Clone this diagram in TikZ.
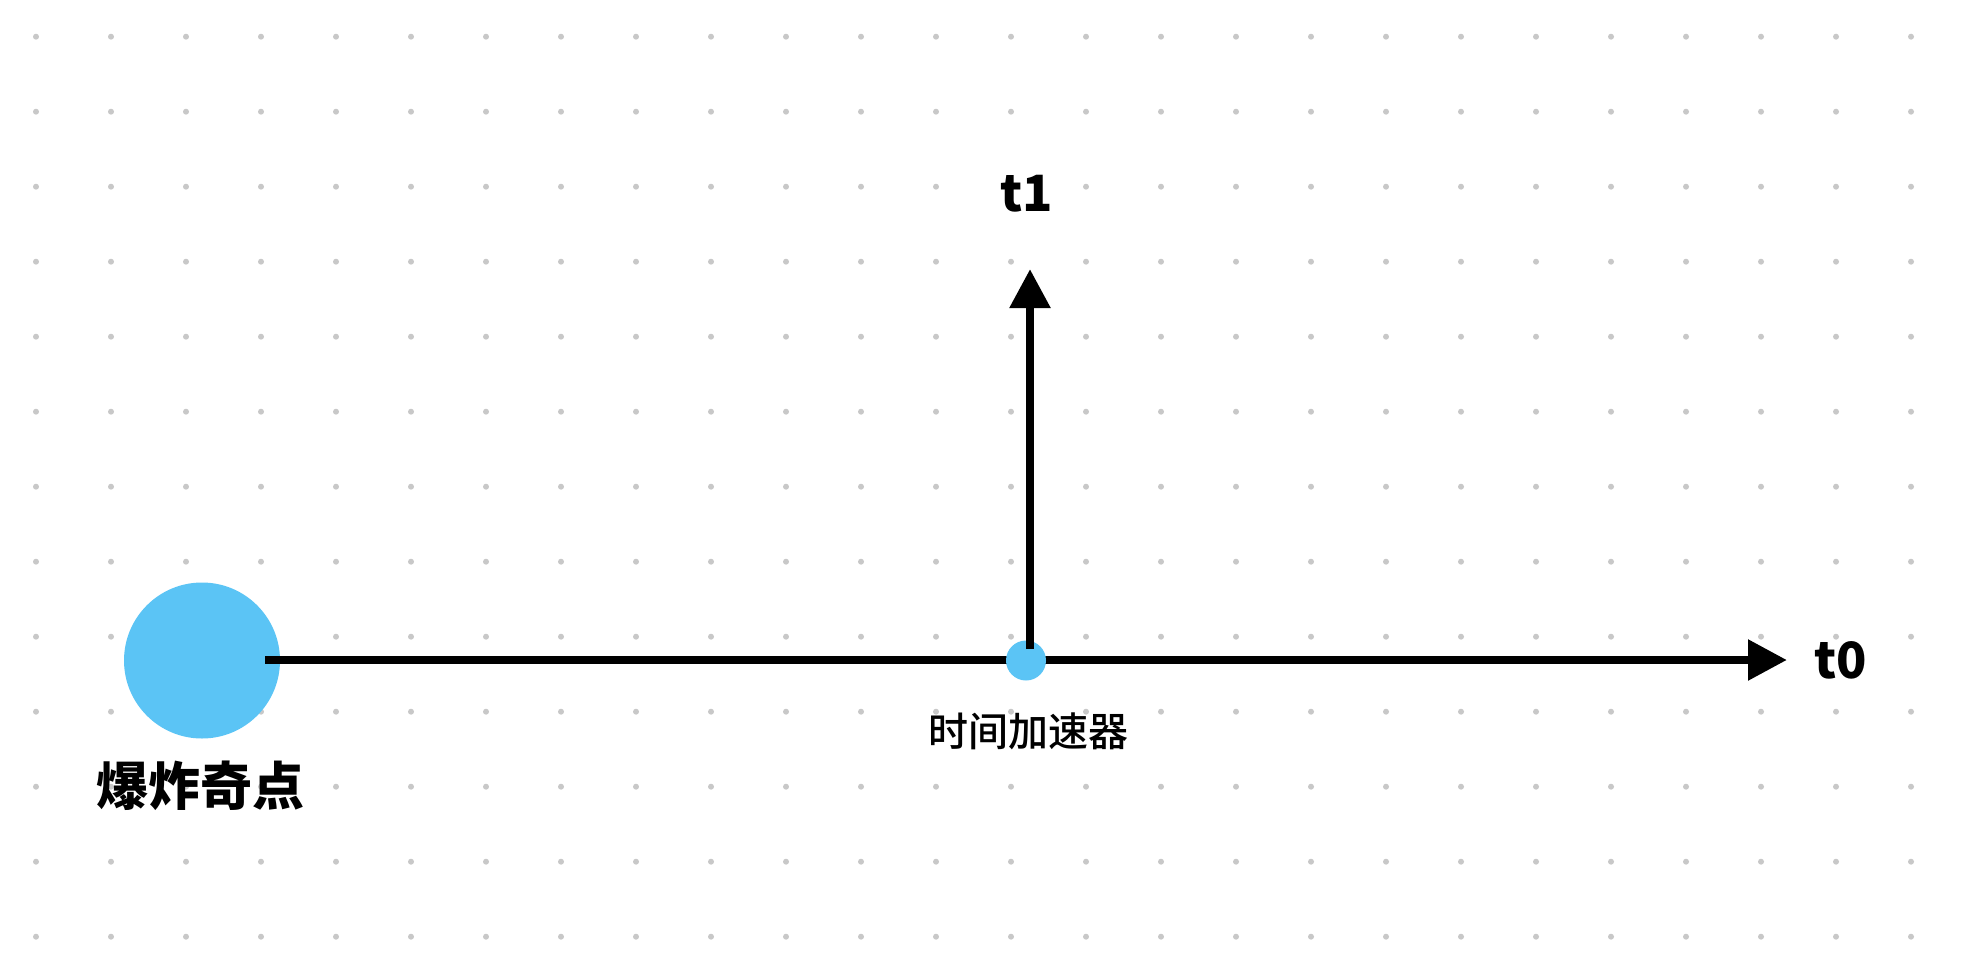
\documentclass[tikz,border=0pt]{standalone}
\usepackage{fontspec}
\newfontfamily\cjk{Noto Sans CJK SC}
\newfontfamily\cjkm{Noto Sans CJK SC}[UprightFont=* Medium]
\usetikzlibrary{arrows.meta}
\definecolor{dotgray}{RGB}{200,200,200}
\definecolor{skyblue}{RGB}{91,196,245}
\tikzset{
  griddot/.style={fill=dotgray, draw=none},
  blob/.style={circle, fill=skyblue, draw=none, inner sep=0pt},
  axisline/.style={line width=8.5pt, draw=black, -{Triangle[length=39pt,width=39pt]}},
  axislabel/.style={inner sep=0pt, font=\cjk\bfseries\fontsize{50}{60}\selectfont},
  smalllabel/.style={inner sep=0pt, font=\cjkm\fontsize{40}{48}\selectfont},
  biglabel/.style={inner sep=0pt, font=\cjk\bfseries\fontsize{52}{60}\selectfont}
}
\begin{document}
\begin{tikzpicture}[x=1pt,y=-1pt]
\useasboundingbox[fill=white] (0,0) rectangle (1975,955);
\foreach \i in {0,...,25}{
  \foreach \j in {0,...,12}{
    \fill[griddot] ({36+75*\i},{36.7+75*\j}) circle (3);
  }
}
\node[blob, minimum size=156pt] (bang) at (202,660.5) {};
\node[biglabel] (banglabel) at (200,786) {爆炸奇点};
\coordinate (hstart) at (265,660);
\coordinate (hend) at (1787,660);
\draw[axisline] (hstart) -- (hend);
\node[blob, minimum size=40pt] (acc) at (1026,660.5) {};
\node[smalllabel] (acclabel) at (1028,731) {时间加速器};
\coordinate (vstart) at (1030,649);
\coordinate (vend) at (1030,269);
\draw[axisline] (vstart) -- (vend);
\node[axislabel] (t0) at (1841,660) {t0};
\node[axislabel] (t1) at (1027,194) {t1};
\end{tikzpicture}
\end{document}
